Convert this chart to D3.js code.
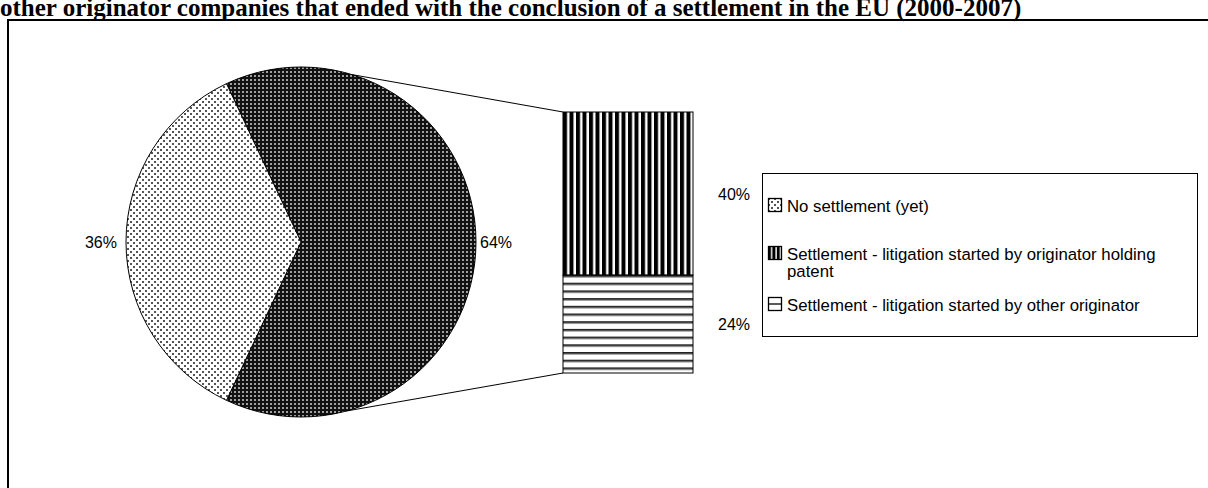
<!DOCTYPE html>
<html><head><meta charset="utf-8">
<script src="https://cdn.jsdelivr.net/npm/d3@7"></script>
<style>html,body{margin:0;padding:0;background:#fff;overflow:hidden}</style>
</head><body>
<svg id="c" width="1208" height="488"></svg>
<script>
const titleText = "other originator companies that ended with the conclusion of a settlement in the EU (2000-2007)";
const pieCategories = ["Settlement", "No settlement (yet)"];
const pieValues = [64, 36];
const barCategories = ["Settlement - litigation started by originator holding patent", "Settlement - litigation started by other originator"];
const barValues = [40, 24];
const legendLabels = [["No settlement (yet)"], ["Settlement - litigation started by originator holding", "patent"], ["Settlement - litigation started by other originator"]];

const svg = d3.select("#c");
const defs = svg.append("defs");

// patterns
const pDots = defs.append("pattern").attr("id","dots").attr("patternUnits","userSpaceOnUse").attr("width",6).attr("height",6);
pDots.append("rect").attr("width",6).attr("height",6).attr("fill","#fff");
pDots.append("rect").attr("x",0).attr("y",0).attr("width",2).attr("height",2).attr("fill","#555");
pDots.append("rect").attr("x",3).attr("y",3).attr("width",2).attr("height",2).attr("fill","#555");

const pDark = defs.append("pattern").attr("id","dark").attr("patternUnits","userSpaceOnUse").attr("width",4).attr("height",4);
pDark.append("rect").attr("width",4).attr("height",4).attr("fill","#111");
pDark.append("rect").attr("x",1).attr("y",1).attr("width",2).attr("height",2).attr("fill","#a0a0a0");

const pV = defs.append("pattern").attr("id","vstripe").attr("patternUnits","userSpaceOnUse").attr("width",6.5).attr("height",10).attr("x",563);
pV.append("rect").attr("width",6.5).attr("height",10).attr("fill","#fff");
pV.append("rect").attr("x",0).attr("width",4).attr("height",10).attr("fill","#000");

const pH = defs.append("pattern").attr("id","hstripe").attr("patternUnits","userSpaceOnUse").attr("width",10).attr("height",7.7).attr("y",275);
pH.append("rect").attr("width",10).attr("height",7.7).attr("fill","#fff");
pH.append("rect").attr("y",0).attr("width",10).attr("height",1.8).attr("fill","#222");
pH.append("rect").attr("y",1.8).attr("width",10).attr("height",1).attr("fill","#999");

const pVl = defs.append("pattern").attr("id","vstripeL").attr("patternUnits","userSpaceOnUse").attr("width",4.4).attr("height",10).attr("x",768);
pVl.append("rect").attr("width",4.4).attr("height",10).attr("fill","#fff");
pVl.append("rect").attr("width",3).attr("height",10).attr("fill","#000");

// title
svg.append("text").attr("x",0).attr("y",16).attr("font-family","Liberation Serif, Times New Roman, serif")
  .attr("font-weight","bold").attr("font-size",25).attr("fill","#000").text(titleText);

// frame
svg.append("path").attr("d","M8,520 L8,20 L1215,20").attr("fill","none").attr("stroke","#000").attr("stroke-width",2);

// pie
const cx = 301, cy = 242, R = 175;
const total = d3.sum(pieValues);
const start = Math.PI/2 - Math.PI*pieValues[0]/total;
const pie = d3.pie().sort(null).startAngle(start).endAngle(start + 2*Math.PI);
const arcs = pie(pieValues);
const arc = d3.arc().innerRadius(0).outerRadius(R);
const pieFills = ["url(#dark)", "url(#dots)"];
const g = svg.append("g").attr("transform",`translate(${cx},${cy})`);
g.selectAll("path").data(arcs).join("path").attr("d",arc)
  .attr("fill",(d,i)=>pieFills[i]).attr("stroke","#000").attr("stroke-width",1);

// pie labels
const fmt = v => Math.round(v) + "%";
const labelFont = "Liberation Sans, Arial, sans-serif";
arcs.forEach((a,i)=>{
  const mid = (a.startAngle + a.endAngle)/2;
  const right = Math.sin(mid) > 0;
  const x = cx + (R + (right ? 4 : 9)) * Math.sin(mid);
  const y = cy - (R + 5) * Math.cos(mid);
  svg.append("text").attr("x", x).attr("y", y + 6)
    .attr("text-anchor", right ? "start" : "end")
    .attr("font-family",labelFont).attr("font-size",16).attr("fill","#000")
    .text(fmt(pieValues[i]/total*100));
});

// bar
const barX = 563, barW = 130, barTop = 112, barBot = 373;
const yBar = d3.scaleLinear().domain([0, d3.sum(barValues)]).range([barTop, barBot]);
const stacked = [];
let acc = 0;
barValues.forEach(v=>{ stacked.push([acc, acc+v]); acc += v; });
const barFills = ["url(#vstripe)", "url(#hstripe)"];
svg.selectAll("rect.bar").data(stacked).join("rect").attr("class","bar")
  .attr("x",barX).attr("width",barW)
  .attr("y",d=>yBar(d[0])).attr("height",d=>yBar(d[1])-yBar(d[0]))
  .attr("fill",(d,i)=>barFills[i]).attr("stroke","#000").attr("stroke-width",1);
stacked.forEach((d,i)=>{
  svg.append("text").attr("x", barX + barW + 25).attr("y", (yBar(d[0])+yBar(d[1]))/2 + 6)
    .attr("font-family",labelFont).attr("font-size",16).attr("fill","#000")
    .text(fmt(barValues[i]/total*100));
});

// connector lines
const a1 = 17*Math.PI/180, a2 = 165*Math.PI/180;
svg.append("line").attr("x1",cx+R*Math.sin(a1)).attr("y1",cy-R*Math.cos(a1)).attr("x2",barX).attr("y2",barTop).attr("stroke","#000").attr("stroke-width",1);
svg.append("line").attr("x1",cx+R*Math.sin(a2)).attr("y1",cy-R*Math.cos(a2)).attr("x2",barX).attr("y2",barBot).attr("stroke","#000").attr("stroke-width",1);

// legend
svg.append("rect").attr("x",762.5).attr("y",173.5).attr("width",435).attr("height",163).attr("fill","#fff").attr("stroke","#000").attr("stroke-width",1);
const legRows = [212, 260, 311];
const legFills = ["url(#dots)", "url(#vstripeL)", "#fff"];
legendLabels.forEach((lines,i)=>{
  const y = legRows[i];
  svg.append("rect").attr("x",768.5).attr("y",y-13.5).attr("width",13).attr("height",13)
    .attr("fill",legFills[i]).attr("stroke","#000").attr("stroke-width",1.3);
  if(i===2){
    svg.append("line").attr("x1",768.5).attr("x2",781.5).attr("y1",y-7).attr("y2",y-7).attr("stroke","#000").attr("stroke-width",1.3);
  }
  lines.forEach((t,k)=>{
    svg.append("text").attr("x",787).attr("y",y + k*17).attr("font-family",labelFont).attr("font-size",16.8).attr("fill","#000").text(t);
  });
});
</script>
</body></html>
